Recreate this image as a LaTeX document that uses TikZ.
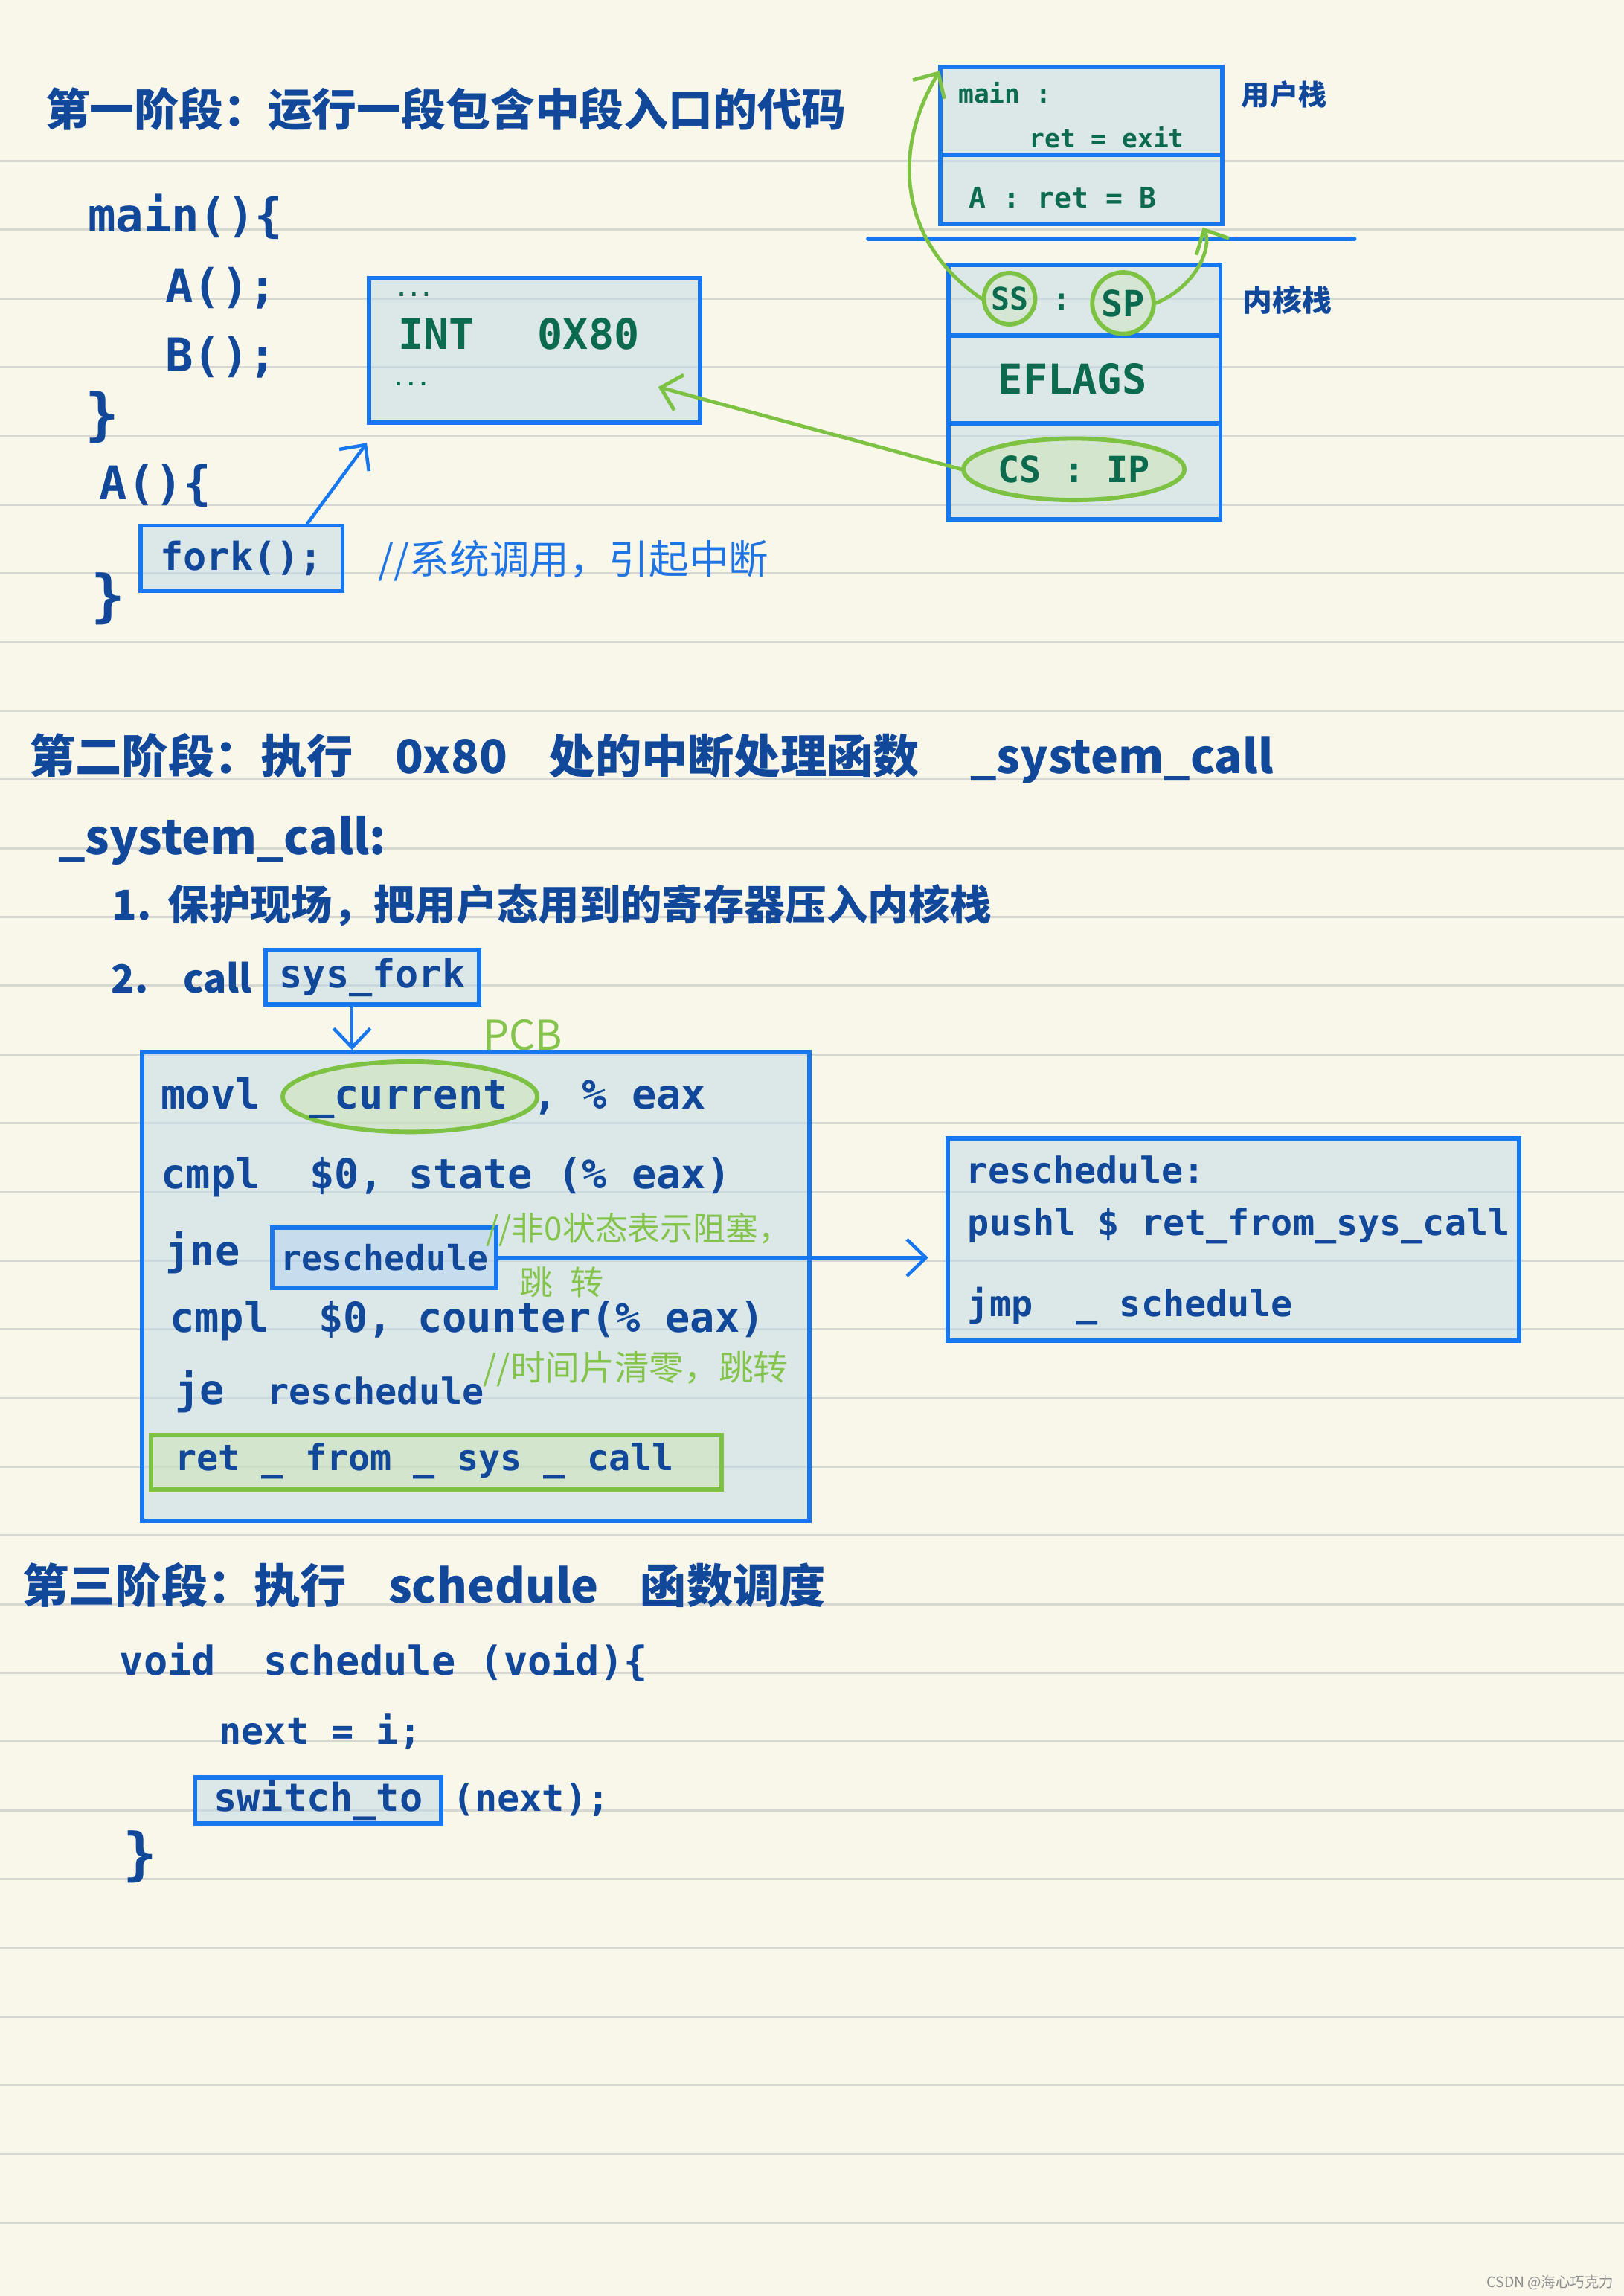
\documentclass[tikz,border=0pt]{standalone}
\usepackage{fontspec}
\setmainfont{Noto Sans CJK SC}
\newfontfamily\codefont{DejaVu Sans Mono}
\usetikzlibrary{fit,shapes.geometric,arrows.meta}
\definecolor{cbg}{HTML}{F9F7EA}
\definecolor{crule}{HTML}{D6D6D3}
\definecolor{cnavy}{HTML}{12489A}
\definecolor{cblue}{HTML}{1677EF}
\definecolor{ccomment}{HTML}{1F74E4}
\definecolor{cgreen}{HTML}{7DC243}
\definecolor{cglt}{HTML}{84C44C}
\definecolor{cdkgreen}{HTML}{0C6B4F}
\definecolor{cboxfill}{HTML}{C1DBE8}
\definecolor{cinner}{HTML}{B3D1F1}
\definecolor{cgfill}{HTML}{CDE3B3}
\definecolor{cwm}{HTML}{8C8C8C}
\tikzset{
  txt/.style={inner sep=0pt, outer sep=0pt, anchor=west},
  code/.style={txt, text=cnavy, font=\codefont\bfseries\fontsize{#1}{#1}\selectfont},
  gcode/.style={txt, text=cdkgreen, font=\codefont\bfseries\fontsize{#1}{#1}\selectfont},
  cjk/.style={txt, font=\fontsize{#1}{#1}\selectfont},
  title/.style={txt, text=cnavy, font=\bfseries\fontsize{#1}{#1}\selectfont},
  bbox/.style={rectangle, draw=cblue, line width=1.7pt, fill=cboxfill, fill opacity=0.5, text opacity=1, inner sep=0pt},
  bbox2/.style={bbox, fill=cinner},
  gbox/.style={rectangle, draw=cgreen, line width=1.7pt, fill=cgfill, fill opacity=0.5, text opacity=1, inner sep=0pt},
  gell/.style={ellipse, draw=cgreen, line width=1.7pt, fill=cgfill, fill opacity=0.5, text opacity=1, inner sep=0pt},
  gcirc/.style={circle, draw=cgreen, line width=1.7pt, fill=cgfill, fill opacity=0.35, text opacity=1, inner sep=0pt, text=cdkgreen},
  barrow/.style={draw=cblue, line width=1.3pt, line cap=round, line join=round, -{Straight Barb[length=2.6mm,width=5mm]}},
  garrow/.style={draw=cgreen, line width=1.4pt, line cap=round, line join=round, -{Straight Barb[length=2.6mm,width=5mm]}},
  bline/.style={draw=cblue, line width=1.7pt, line cap=round},
  rule/.style={draw=crule, line width=0.8pt}
}
\begin{document}
\begin{tikzpicture}[x=0.02cm, y=-0.02cm]
\fill[cbg] (0,0) rectangle (1109,1568);
\useasboundingbox (0,0) rectangle (1109,1568);
\foreach \i in {0,...,30} \draw[rule] (0,{110+46.93*\i}) -- (1109,{110+46.93*\i});

% ---------------- Stage 1 ----------------
\node[title=17.3] (t1) at (31,74.5) {第一阶段：运行一段包含中段入口的代码};
\node[code=18] (mainl) at (60,148) {main()\{};
\node[code=18] (acall) at (113,197) {A();};
\node[code=18] (bcall) at (113,244) {B();};
\node[code=22] (mainend) at (58,285) {\}};
\node[code=18] (adef) at (68,332) {A()\{};
\node[bbox, fit={(96,359) (234,403.6)}] (fork) {};
\node[code=15, anchor=center] (forkt) at (fork.center) {fork();};
\node[code=22] (aend) at (62,409) {\}};
\node[cjk=15.5, text=ccomment] (cm1) at (258.6,382.7) {//系统调用，引起中断};

\node[bbox, fit={(252,190) (478,288.5)}] (int) {};
\node[gcode=8] (dots1) at (270,201) {...};
\node[gcode=16.4] (intt) at (272,228) {INT\hspace{1.5em}0X80};
\node[gcode=8] (dots2) at (268,262) {...};

% user stack
\node[bbox, fit={(642.3,45.9) (835,105.7)}] (ubox1) {};
\node[bbox, fit={(642.3,105.7) (835,152.8)}] (ubox2) {};
\node[gcode=10] (umain) at (654.6,63.6) {main :};
\node[gcode=10] (uret) at (703,93.6) {ret = exit};
\node[gcode=11] (ua) at (662,135) {A : ret = B};
\node[title=11] (ulabel) at (848,64.6) {用户栈};
\draw[bline] (593,163) -- (925,163);

% kernel stack
\node[bbox, fit={(648,181) (833.5,229)}] (kbox1) {};
\node[bbox, fit={(648,229) (833.5,289)}] (kbox2) {};
\node[bbox, fit={(648,289) (833.5,354.5)}] (kbox3) {};
\node[gcirc, minimum size=0.7cm, font=\codefont\bfseries\fontsize{12}{12}\selectfont] (ss) at (689.5,204) {SS};
\node[gcirc, minimum size=0.84cm, font=\codefont\bfseries\fontsize{14}{14}\selectfont] (sp) at (767,207) {SP};
\node[gcode=12, anchor=center] (sscolon) at (725,206) {:};
\node[gcode=16, anchor=center] (eflags) at (732.5,259) {EFLAGS};
\node[gell, minimum width=3.02cm, minimum height=0.84cm, text=cdkgreen, font=\codefont\bfseries\fontsize{14}{14}\selectfont] (csip) at (733.5,320.5) {CS : IP};
\node[title=11.5] (klabel) at (849,205) {内核栈};

% stage 1 connectors
\draw[barrow] ([xshift=0.9cm]fork.north) -- ([yshift=-0.25cm]int.south west);
\draw[garrow] (csip.west) -- ([xshift=-0.6cm,yshift=-0.5cm]int.east);
\draw[garrow] (ss.west) .. controls (620,170) and (605,110) .. ([xshift=0.02cm,yshift=-0.08cm]ubox1.north west);
\draw[garrow] (sp.east) .. controls (818,195) and (828,168) .. ([xshift=-0.3cm,yshift=-0.02cm]ubox2.south east);

% ---------------- Stage 2 ----------------
\node[title=18] (t2) at (20,518) {第二阶段：执行\hspace{0.9em}0x80\hspace{0.9em}处的中断处理函数\hspace{1.1em}\_system\_call};
\node[title=18.5] (sc) at (39.7,574) {\_system\_call:};
\node[title=16] (s1) at (76.6,618) {1.\hspace{0.4em}保护现场，把用户态用到的寄存器压入内核栈};
\node[title=15] (s2) at (76,667.5) {2.\hspace{0.9em}call};
\node[bbox, fit={(181.6,649) (327,686)}] (sysfork) {};
\node[code=15, anchor=center] (sysforkt) at (sysfork.center) {sys\_fork};
\node[cjk=16, text=cglt] (pcb) at (330,707) {PCB};

\node[bbox, fit={(97,718.5) (553,1038.6)}] (pcbbox) {};
\path ([xshift=-0.278cm]sysfork.south) coordinate (sfa);
\draw[barrow] (sfa) -- (sfa |- pcbbox.north);

\node[gell, minimum width=3.48cm, minimum height=0.96cm] (curell) at (280,749) {};
\node[code=16] (l1) at (110,749.8) {movl~~\_current , \% eax};
\node[code=16] (l2) at (110,803.8) {cmpl~~\$0, state (\% eax)};
\node[code=16] (l3) at (113,855.7) {jne};
\node[bbox2, fit={(186,838.4) (339,879.4)}] (resch) {};
\node[code=13.4, anchor=center] (rescht) at (resch.center) {reschedule};
\node[code=16] (l4) at (116,902) {cmpl~~\$0, counter(\% eax)};
\node[code=16] (l5) at (119.6,950.5) {je\hspace{0.58cm}{\fontsize{14}{14}\selectfont reschedule}};
\node[gbox, fit={(103,980) (492.7,1017)}] (retbox) {};
\node[code=14] (rett) at (119.6,998) {ret \_ from \_ sys \_ call};

\node[cjk=12.7, text=cglt] (cm2) at (332,840) {//非0状态表示阻塞，};
\node[cjk=13, text=cglt] (cm2b) at (355,875.5) {跳\hspace{0.5em}转};
\node[cjk=13.5, text=cglt] (cm3) at (330,935) {//时间片清零，跳转};

\node[bbox, fit={(647.5,777.6) (1037.5,915.7)}] (rblock) {};
\node[code=14] (r1) at (660,799) {reschedule:};
\node[code=14] (r2) at (661,837) {pushl \$ ret\_from\_sys\_call};
\node[code=14] (r3) at (661,892) {jmp~~\_ schedule};
\path (rblock.west) ++(-12,0) coordinate (rtip);
\draw[barrow] (resch.east) -- (resch.east -| rtip);

% ---------------- Stage 3 ----------------
\node[title=18] (t3) at (15.5,1082.5) {第三阶段：执行\hspace{0.9em}schedule\hspace{0.9em}函数调度};
\node[code=15.5] (v1) at (81.7,1135) {void~~schedule (void)\{};
\node[code=14.5] (v2) at (149.7,1182.5) {next = i;};
\node[bbox, fit={(133.4,1213.7) (301.4,1245.5)}] (sw) {};
\node[code=15, anchor=center] (swt) at (sw.center) {switch\_to};
\node[code=14.5] (v3) at (309,1229) {(next);};
\node[code=22] (v4) at (84,1268) {\}};

\node[txt, text=cwm, font=\fontsize{5.6}{6}\selectfont] (wm) at (1015.5,1559) {CSDN @海心巧克力};
\end{tikzpicture}
\end{document}
